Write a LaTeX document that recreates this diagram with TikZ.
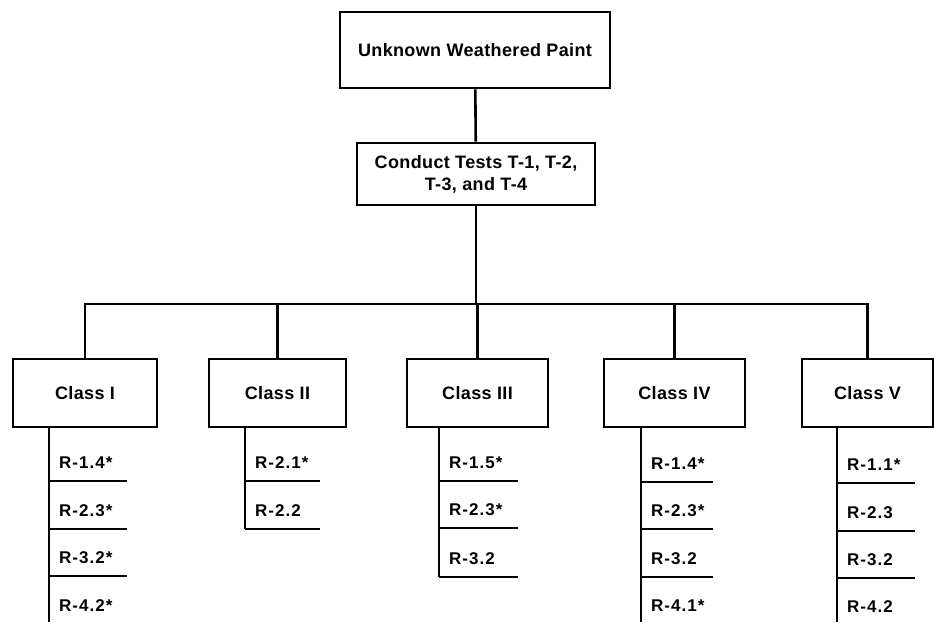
\documentclass[tikz,border=0pt]{standalone}
\usepackage{fontspec}
\setmainfont{Liberation Sans}
\newfontfamily\boxfont[LetterSpace=2]{Liberation Sans}
\newfontfamily\itmfont[LetterSpace=6]{Liberation Sans}
\begin{document}
\begin{tikzpicture}[x=1pt,y=-1pt,
  conn/.style={line width=2.6pt},
  box/.style={draw,line width=2.6pt,rectangle,inner sep=0pt,font=\boxfont\fontsize{18}{22}\selectfont\bfseries,align=center},
  itm/.style={rectangle,inner xsep=10pt,inner ysep=0pt,minimum height=36pt,anchor=south west,font=\itmfont\fontsize{17}{20}\selectfont\bfseries,align=left},
]
\useasboundingbox (0,0) rectangle (934,622);
% top boxes
\node[box,minimum width=270pt,minimum height=76pt] (top) at (475,50) {Unknown Weathered Paint};
\node[box,minimum width=238pt,minimum height=62pt] (tests) at (476,174) {Conduct Tests T-1, T-2,\\T-3, and T-4};
% class boxes
\node[box,minimum width=144pt,minimum height=68pt] (c1) at (85,393) {Class I};
\node[box,minimum width=137pt,minimum height=68pt] (c2) at (277.5,393) {Class II};
\node[box,minimum width=141pt,minimum height=68pt] (c3) at (477.5,393) {Class III};
\node[box,minimum width=141pt,minimum height=68pt] (c4) at (674.5,393) {Class IV};
\node[box,minimum width=131pt,minimum height=68pt] (c5) at (867.5,393) {Class V};
\coordinate (bar) at (476,304);
\draw[conn] (top) -- (tests);
\draw[conn] (tests.south) -- (bar);
\draw[conn] (c1.north) -- (c1.north |- bar) -- (c5.north |- bar) -- (c5.north);
\foreach \c in {c2,c3,c4} \draw[conn] (\c.north) -- (\c.north |- bar);
% Class I items
\node[itm,text width=58pt] (a1) at (49,481) {\mbox{R-1.4*}};
\node[itm,text width=58pt] (a2) at (49,529) {\mbox{R-2.3*}};
\node[itm,text width=58pt] (a3) at (49,576) {\mbox{R-3.2*}};
\node[itm,text width=58pt] (a4) at (49,624) {\mbox{R-4.2*}};
\coordinate (a5) at (49,622);
\draw[conn] (c1.south -| a1.west) -- (a5);
\foreach \i in {a1,a2,a3} \draw[conn] (\i.south west) -- (\i.south east);
% Class II items
\node[itm,text width=55pt] (b1) at (245,481) {\mbox{R-2.1*}};
\node[itm,text width=55pt] (b2) at (245,529) {\mbox{R-2.2}};
\draw[conn] (c2.south -| b1.west) -- (b2.south west);
\foreach \i in {b1,b2} \draw[conn] (\i.south west) -- (\i.south east);
% Class III items
\node[itm,text width=59pt] (d1) at (439,481) {\mbox{R-1.5*}};
\node[itm,text width=59pt] (d2) at (439,528) {\mbox{R-2.3*}};
\node[itm,text width=59pt] (d3) at (439,577) {\mbox{R-3.2}};
\draw[conn] (c3.south -| d1.west) -- (d3.south west);
\foreach \i in {d1,d2,d3} \draw[conn] (\i.south west) -- (\i.south east);
% Class IV items
\node[itm,text width=52pt] (e1) at (641,482) {\mbox{R-1.4*}};
\node[itm,text width=52pt] (e2) at (641,529) {\mbox{R-2.3*}};
\node[itm,text width=52pt] (e3) at (641,577) {\mbox{R-3.2}};
\node[itm,text width=52pt] (e4) at (641,624) {\mbox{R-4.1*}};
\coordinate (e5) at (641,622);
\draw[conn] (c4.south -| e1.west) -- (e5);
\foreach \i in {e1,e2,e3} \draw[conn] (\i.south west) -- (\i.south east);
% Class V items
\node[itm,text width=58pt] (f1) at (837,483) {\mbox{R-1.1*}};
\node[itm,text width=58pt] (f2) at (837,531) {\mbox{R-2.3}};
\node[itm,text width=58pt] (f3) at (837,578) {\mbox{R-3.2}};
\node[itm,text width=58pt] (f4) at (837,625) {\mbox{R-4.2}};
\coordinate (f5) at (837,622);
\draw[conn] (c5.south -| f1.west) -- (f5);
\foreach \i in {f1,f2,f3} \draw[conn] (\i.south west) -- (\i.south east);
\end{tikzpicture}
\end{document}
